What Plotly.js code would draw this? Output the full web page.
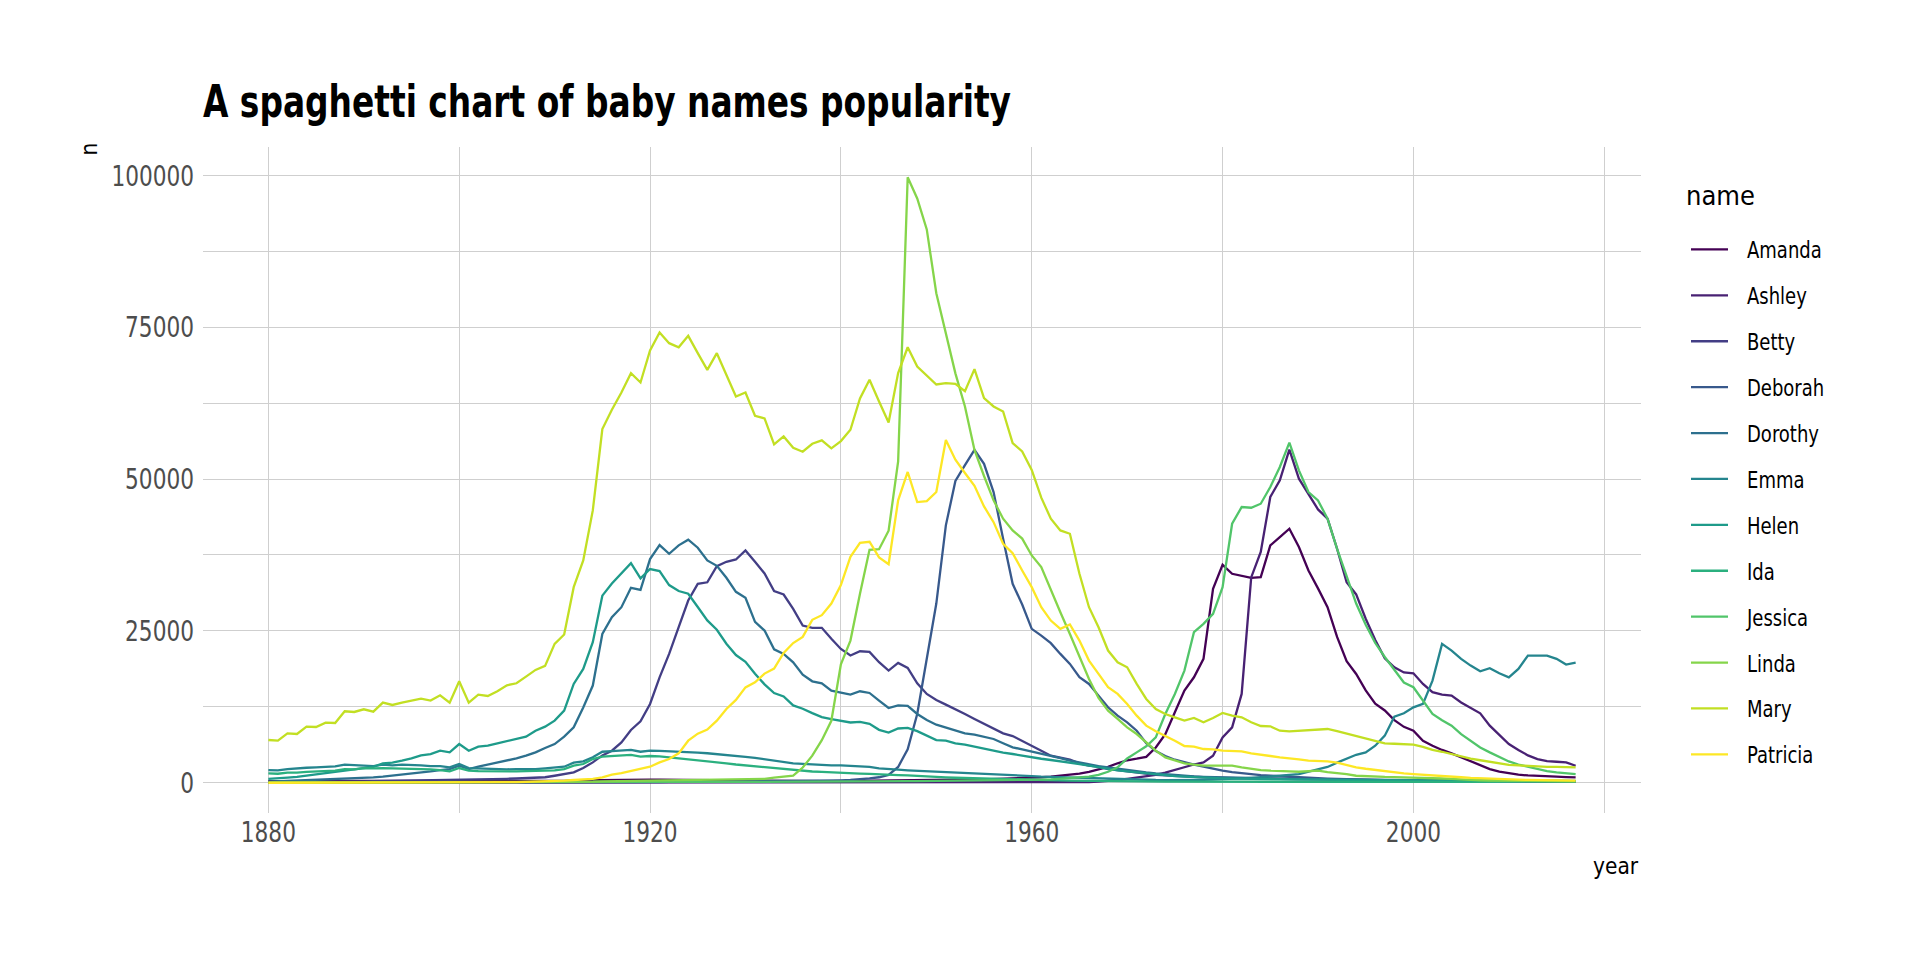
<!DOCTYPE html>
<html>
<head>
<meta charset="utf-8">
<script src="https://cdn.plot.ly/plotly-3.0.1.min.js"></script>
<style>html,body{margin:0;padding:0;background:#fff;}#chart{width:1920px;height:960px;}</style>
</head>
<body>
<div id="chart"></div>
<script>
// x categories: years 1880..2017
const years = [];
for (let y = 1880; y <= 2017; y++) years.push(y);

const names = ["Amanda","Ashley","Betty","Deborah","Dorothy","Emma","Helen","Ida","Jessica","Linda","Mary","Patricia"];
const colors = ["#440154","#482173","#433E85","#38598C","#2D708E","#25858E","#1E9B8A","#2BB07F","#51C56A","#85D54A","#C2DF23","#FDE725"];

const amanda = [
241,230,250,245,260,270,280,290,320,300,
310,300,320,310,320,330,320,310,320,300,
350,300,300,300,290,300,290,300,300,300,
310,320,380,400,450,520,540,530,540,500,
520,500,480,460,440,420,400,380,360,340,
330,320,300,290,280,280,270,270,270,270,
280,300,320,330,330,340,380,420,430,440,
460,480,500,520,540,560,600,640,680,720,
800,900,1000,1150,1300,1500,1800,2200,2600,3200,
3700,3950,4250,5800,8000,11590,15170,17360,20390,31930,
35880,34400,34120,33740,33850,39070,40440,41820,38800,34950,
32000,28900,24000,20000,17900,15200,13000,11900,10300,9200,
8570,6920,6100,5400,4840,4180,3460,2800,2250,1810,
1540,1320,1200,1100,1050,990,930,880];

const ashley = [
0,0,0,0,0,0,0,0,0,0,
0,0,0,0,0,0,0,0,0,0,
0,0,0,0,0,0,0,0,0,0,
0,0,0,0,0,0,0,0,0,0,
0,0,0,0,0,0,0,0,0,0,
0,0,0,0,0,0,0,0,0,0,
0,0,0,0,0,0,0,0,0,0,
0,0,0,0,0,0,0,0,0,0,
0,0,0,0,20,50,100,180,280,450,
650,850,1050,1300,1650,2100,2600,3000,3350,4450,
7470,9120,14620,33800,38000,47040,49790,54850,50060,47590,
45000,43470,38520,33000,31000,27000,23500,20500,19000,18150,
18020,16270,14900,14500,14340,13200,12300,11430,9400,7900,
6370,5400,4500,3900,3550,3450,3350,2800];

const betty = [
120,120,130,140,150,160,170,180,200,210,
230,250,270,290,310,330,350,380,400,420,
500,480,520,560,600,650,700,760,830,900,
1150,1400,1700,2420,3350,4500,5275,6650,8680,10110,
12970,17360,21210,25610,30000,32750,33000,35660,36380,36760,
38250,36380,34460,31540,30990,28630,25880,25500,25500,23690,
22030,20940,21650,21540,19840,18460,19730,18900,16370,14620,
13630,12860,12140,11320,10500,9670,8850,8130,7690,6920,
6100,5275,4450,4180,3790,3190,2800,2640,2250,2090,
1870,1650,1450,1300,1200,1100,1000,950,900,850,
800,780,750,700,680,650,620,600,580,560,
540,520,500,480,460,440,420,400,390,380,
370,360,350,340,330,320,320,310,310,300,
300,300,290,290,280,280,280,270];

const deborah = [
0,0,0,0,0,0,0,0,0,0,
0,0,0,0,0,0,0,0,0,0,
10,10,10,10,10,10,10,10,10,10,
20,20,30,40,50,60,70,80,90,100,
110,120,130,140,150,160,170,180,190,200,
210,220,230,240,250,260,280,300,320,350,
400,450,550,700,900,1300,2600,5500,11320,20110,
29500,42370,49680,52300,54800,52500,47860,40170,32750,29340,
25330,24230,22970,21210,19560,17360,16260,14340,12420,11045,
9945,8570,6500,5200,4400,3790,3350,2970,2640,2250,
1980,1750,1550,1400,1250,1150,1050,950,880,800,
740,680,620,570,520,480,440,410,380,350,
330,310,290,270,250,240,230,220,210,200,
190,180,170,170,160,160,150,150];

const dorothy = [
165,220,270,330,380,440,500,550,600,700,
770,880,990,1150,1320,1430,1700,1870,2090,2250,
2800,2250,2640,2970,3350,3630,4010,4450,5000,5715,
6370,7580,9120,12400,16000,24500,27250,28900,32090,31760,
36820,39130,37700,39080,40010,38690,36600,35720,33740,31430,
30440,26480,25050,21970,21200,19830,17800,16700,16370,15170,
14780,14500,15060,14780,13520,12300,12750,12640,11320,10330,
9560,9120,8570,8130,7910,7550,7200,6500,5825,5500,
5165,4800,4450,4050,3630,3300,2970,2750,2530,2300,
2090,1900,1700,1540,1400,1250,1150,1050,980,930,
900,850,800,760,720,680,650,620,600,580,
560,540,520,500,480,460,440,420,410,400,
390,380,370,360,350,340,330,320,310,300,
300,300,290,290,280,280,270,270];

const emma = [
2090,2030,2250,2300,2470,2530,2640,2700,2970,2860,
2860,2750,2970,2860,2970,2970,2860,2750,2750,2530,
3080,2420,2360,2300,2250,2200,2250,2200,2250,2360,
2530,2640,3300,3520,4180,5100,5200,5275,5400,5100,
5275,5250,5200,5165,5050,4950,4850,4730,4550,4400,
4250,4100,3850,3600,3400,3200,3100,3000,2950,2850,
2850,2800,2750,2600,2350,2200,2150,2050,1980,1900,
1800,1750,1700,1650,1600,1550,1500,1400,1300,1200,
1100,1000,950,900,850,750,700,650,600,550,
500,480,460,450,440,430,430,450,480,520,
560,620,700,800,900,1000,1150,1300,1430,1800,
2200,2600,3300,4000,4600,5000,6100,7750,10880,11430,
12420,12970,16810,22860,21760,20390,19290,18350,18850,18020,
17360,18740,20940,20940,20940,20390,19450,19780];

const helen = [
640,700,850,950,1150,1300,1500,1700,2000,2100,
2400,2600,3190,3300,3630,4000,4500,4700,5275,5000,
6370,5275,5935,6100,6480,6810,7140,7580,8570,9230,
10220,11870,16265,18740,23130,30800,32800,34400,36150,33640,
35180,34850,32550,31560,31120,28930,26730,25190,22880,21020,
19920,17940,16190,14760,14210,12730,12180,11460,10800,10470,
10140,9920,10030,9700,8710,8270,8930,9040,8490,7720,
7030,6920,6480,6260,5930,5500,5200,4950,4730,4450,
4180,3950,3740,3550,3350,3080,2800,2530,2250,2050,
1870,1700,1500,1320,1200,1080,990,900,830,770,
720,680,650,620,600,580,560,550,540,530,
520,500,480,460,450,440,430,420,410,400,
400,390,380,370,360,350,350,340,340,330,
330,320,320,310,310,300,300,300];

const ida = [
1540,1480,1650,1650,1800,1850,1950,2000,2250,2200,
2420,2350,2420,2380,2420,2350,2250,2200,2090,1870,
2420,1980,1900,1870,1850,1850,1870,1900,1930,1980,
2050,2250,2800,3080,3900,4300,4400,4500,4600,4300,
4400,4350,4200,4000,3900,3750,3550,3350,3200,3000,
2850,2700,2550,2400,2250,2150,2000,1850,1800,1700,
1600,1540,1500,1450,1350,1300,1250,1200,1150,1050,
950,880,820,770,720,680,640,600,560,520,
480,450,420,390,360,330,300,280,260,240,
220,210,200,190,180,170,165,160,155,150,
150,145,140,135,130,128,125,122,120,120,
120,118,116,114,112,110,110,110,110,110,
110,110,115,120,125,130,135,140,145,150,
150,160,170,180,190,195,200,200];

const jessica = [
7,7,8,9,10,11,12,13,14,15,
16,17,18,19,20,21,22,23,24,25,
30,30,32,34,36,38,40,42,45,48,
50,55,65,75,85,110,120,130,140,150,
150,150,150,150,150,150,150,150,150,150,
150,150,150,150,150,150,160,170,180,190,
200,210,220,230,240,250,260,270,280,290,
300,310,320,330,340,350,360,380,400,420,
450,500,560,640,740,850,1000,1300,1800,2530,
4000,5000,6000,7470,11320,14620,18460,24780,26160,27800,
32200,42640,45390,45280,45940,48690,51980,55990,51430,47860,
46490,43470,38520,34000,29500,26000,23000,20700,18500,16500,
15720,13520,11320,10300,9400,8000,6920,5800,5000,4200,
3500,3000,2600,2200,1900,1700,1550,1430];

const linda = [
27,30,30,30,35,35,35,40,40,40,
45,45,50,50,50,55,55,55,60,60,
70,65,70,70,75,75,80,85,90,95,
100,110,130,150,170,220,240,260,280,300,
320,340,360,380,400,420,440,460,480,500,
520,550,650,850,1000,1150,2500,4450,7000,10200,
19500,23400,31100,38340,38450,41500,52900,99680,96200,91100,
80590,74010,67400,61950,54800,50500,46500,43470,41540,40200,
37420,35500,31650,28080,24500,20660,17090,13960,11870,10500,
9120,8020,6650,5275,4180,3630,3190,2970,2800,2800,
2800,2800,2530,2250,2090,1980,1870,1870,1810,1870,
1980,1750,1600,1400,1150,1050,980,950,920,900,
880,820,760,700,620,520,440,400,370,340,
320,300,280,260,250,240,230,220];

const mary = [
7034,6924,8133,8023,9232,9177,9891,9836,11759,11650,
12089,11704,13188,12803,13188,13518,13847,13518,14397,13188,
16705,13188,14507,14287,15056,16045,16375,17474,18573,19233,
22860,24398,32201,36597,44840,58225,61405,64255,67435,65900,
71163,74123,72370,71700,73575,70724,67983,70724,67106,63600,
64255,60418,59980,55700,57020,55155,54500,55810,56360,55045,
56250,58115,63270,66340,62775,59320,67435,71700,68530,67000,
65570,65790,65680,64475,68093,63323,61953,61130,55923,54550,
51500,46930,43466,41540,40990,34400,28900,25600,21760,19840,
19010,16265,13790,12145,11320,10770,10220,10660,9945,10660,
11485,11045,10770,9945,9340,9290,8570,8460,8570,8680,
8680,8850,8500,8100,7750,7300,6900,6480,6420,6350,
6265,5900,5400,5100,4700,4300,3950,3700,3450,3150,
2950,2850,2750,2650,2620,2600,2550,2530];

const patricia = [
0,0,0,0,10,10,10,15,15,15,
20,20,25,25,30,30,35,35,40,40,
60,50,60,70,80,90,110,130,160,200,
260,330,450,550,650,880,1320,1590,1980,2250,
2640,3350,3900,4840,6920,8080,8740,10220,12145,13630,
15700,16540,17970,18790,21370,23000,24010,26820,27585,29510,
32530,37200,39510,39675,37090,35990,46490,51160,46210,46380,
47860,56440,53180,51000,48900,45500,42900,39340,37800,34950,
32200,28900,26700,25330,26050,23410,20110,17910,15720,14620,
12970,11045,9400,8460,7750,6920,6045,5935,5550,5500,
5275,5275,5165,4835,4560,4400,4180,4070,3850,3630,
3630,3520,3300,2900,2530,2300,2100,1900,1700,1550,
1430,1300,1200,1100,1000,900,800,720,650,590,
540,500,460,420,390,360,340,330];

const series = [amanda, ashley, betty, deborah, dorothy, emma, helen, ida, jessica, linda, mary, patricia];

const xTickVals = [1880,1900,1920,1940,1960,1980,2000,2020];
const xTickText = ["1880","","1920","","1960","","2000",""];
const yTickVals = [0,12500,25000,37500,50000,62500,75000,87500,100000];
const yTickText = ["0","","25000","","50000","","75000","","100000"];

const FONT = "'Liberation Sans Narrow', 'Arial Narrow', 'DejaVu Sans Condensed', sans-serif";

const traces = names.map((nm, i) => ({
  type: 'scatter',
  mode: 'lines',
  x: years,
  y: series[i],
  name: nm,
  legendgroup: nm,
  line: {color: colors[i], width: 2.3},
  hoverinfo: 'x+y+name'
}));

const layout = {
  width: 1920, height: 960,
  margin: {l: 203, r: 279, t: 147, b: 147, pad: 0},
  paper_bgcolor: '#ffffff', plot_bgcolor: '#ffffff',
  font: {family: FONT, size: 29, color: '#4d4d4d'},
  title: {
    text: 'A spaghetti chart of baby names popularity',
    font: {family: FONT, size: 45, color: '#000000', weight: 'bold'},
    xref: 'container', x: 203/1920, xanchor: 'left',
    yref: 'container', y: 1 - 101/960, yanchor: 'middle'
  },
  xaxis: {
    range: [1873.15, 2023.85],
    tickmode: 'array', tickvals: xTickVals, ticktext: xTickText,
    ticks: '', showline: false, zeroline: false,
    showgrid: true, gridcolor: '#cfcfcf', gridwidth: 1,
    tickfont: {family: FONT, size: 29, color: '#4d4d4d'},
    ticklabelstandoff: -1
  },
  yaxis: {
    range: [-4984, 104668],
    tickmode: 'array', tickvals: yTickVals, ticktext: yTickText,
    ticks: '', showline: false, zeroline: false,
    showgrid: true, gridcolor: '#cfcfcf', gridwidth: 1,
    tickfont: {family: FONT, size: 29, color: '#4d4d4d'},
    ticklabelstandoff: 8
  },
  showlegend: true,
  legend: {
    x: (1686 - 203) / 1438, xanchor: 'left', xref: 'paper',
    y: (813 - 228) / 666, yanchor: 'top', yref: 'paper',
    bgcolor: 'rgba(0,0,0,0)', borderwidth: 0,
    font: {family: FONT, size: 23, color: '#000000'},
    tracegroupgap: 13,
    itemwidth: 51
  },
  annotations: [
    {text: 'name', xref: 'paper', yref: 'paper', x: (1684 - 203) / 1438, y: (813 - 196) / 666,
     xanchor: 'left', yanchor: 'middle', showarrow: false,
     font: {family: FONT, size: 27, color: '#000000'}},
    {text: 'n', xref: 'paper', yref: 'paper', x: (88 - 203) / 1438, y: 1 + 6 / 666, xanchor: 'center', yanchor: 'top',
     textangle: -90, showarrow: false, font: {family: FONT, size: 22.5, color: '#000000'}},
    {text: 'year', xref: 'paper', yref: 'paper', x: 1, y: (813 - 866) / 666, xanchor: 'right', yanchor: 'middle',
     showarrow: false, font: {family: FONT, size: 22.5, color: '#000000'}}
  ]
};

function squeeze(el, f) {
  const L = el.getComputedTextLength();
  if (L > 0) {
    el.setAttribute('textLength', (L * f).toFixed(1));
    el.setAttribute('lengthAdjust', 'spacingAndGlyphs');
  }
}

function condense(gd) {
  // narrow the title, tick and legend labels to the reference's condensed face (text stays real text)
  const t = gd.querySelector('.gtitle');
  if (t) {
    t.setAttribute('textLength', '808');
    t.setAttribute('lengthAdjust', 'spacingAndGlyphs');
  }
  gd.querySelectorAll('.xtick text, .ytick text').forEach(el => squeeze(el, 0.83));
  gd.querySelectorAll('.legendtext').forEach(el => squeeze(el, 0.87));
  // legend key length as in the reference
  gd.querySelectorAll('.legendlines path').forEach(p => p.setAttribute('d', 'M5,0h37'));
}

Plotly.newPlot('chart', traces, layout, {displayModeBar: false, staticPlot: true}).then(condense);
</script>
</body>
</html>
